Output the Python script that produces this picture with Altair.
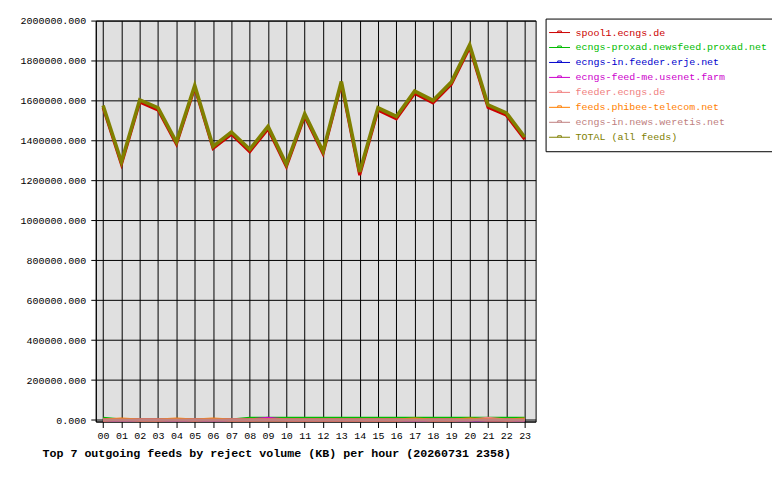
import altair as alt
import pandas as pd

hours = list(range(24))

series_names = [
    "spool1.ecngs.de",
    "ecngs-proxad.newsfeed.proxad.net",
    "ecngs-in.feeder.erje.net",
    "ecngs-feed-me.usenet.farm",
    "feeder.ecngs.de",
    "feeds.phibee-telecom.net",
    "ecngs-in.news.weretis.net",
    "TOTAL (all feeds)",
]
series_colors = ["#cc0000", "#00bb00", "#0000cc", "#cc00cc",
                 "#f08080", "#ff8000", "#c08080", "#808000"]
series_widths = [3, 3, 3, 3, 3, 3, 3, 3.6]

spool1 = [1564000, 1280000, 1592000, 1552000, 1381000, 1664000, 1359000, 1431000,
          1343000, 1457000, 1268000, 1521000, 1333000, 1683000, 1226000, 1551000,
          1508000, 1635000, 1588000, 1680000, 1865000, 1565000, 1526000, 1405000]
proxad = [9000, 0, 0, 0, 0, 0, 0, 0,
          9000, 9000, 9000, 9000, 9000, 9000, 9000, 9000,
          9000, 9000, 9000, 9000, 9000, 9000, 9000, 9000]
erje = [0] * 24
usenet_farm = [0, 0, 0, 0, 0, 0, 0, 0,
               0, 9000, 0, 0, 0, 0, 0, 0,
               0, 0, 0, 0, 0, 0, 0, 0]
feeder_ecngs = [0, 0, 0, 0, 0, 0, 0, 0,
                0, 0, 0, 0, 0, 0, 0, 0,
                0, 0, 0, 0, 0, 9000, 0, 0]
phibee = [0, 5000, 0, 0, 5000, 0, 5000, 0,
          0, 0, 0, 0, 0, 0, 0, 0,
          0, 5000, 0, 0, 5000, 0, 0, 5000]
weretis = [0] * 24
total = [1575000, 1292000, 1603000, 1563000, 1392000, 1675000, 1370000, 1442000,
         1355000, 1470000, 1280000, 1533000, 1345000, 1695000, 1242000, 1563000,
         1520000, 1647000, 1600000, 1692000, 1878000, 1578000, 1538000, 1417000]

all_series = [spool1, proxad, erje, usenet_farm, feeder_ecngs, phibee, weretis, total]

rows = []
for name, vals in zip(series_names, all_series):
    for h, v in zip(hours, vals):
        rows.append({"hour": h, "feed": name, "kb": v})
df = pd.DataFrame(rows)

FONT = "Liberation Mono"
COLOR_EXPR = "scale('color', datum.value)"

color = alt.Color(
    "feed:N",
    scale=alt.Scale(domain=series_names, range=series_colors),
    legend=alt.Legend(
        title=None,
        orient="none",
        legendX=451,
        legendY=-2,
        padding=9,
        strokeColor="black",
        fillColor="white",
        cornerRadius=0,
        symbolType="M-3.5,0H3.5M-0.6,0V-0.5H0.6V0",
        symbolSize=36,
        symbolStrokeWidth=1,
        symbolFillColor="transparent",
        symbolStrokeColor=alt.ExprRef(COLOR_EXPR),
        labelFont=FONT,
        labelFontSize=10,
        labelLimit=0,
        labelOffset=11,
        rowPadding=5,
        labelColor=alt.ExprRef(COLOR_EXPR),
    ),
)

x = alt.X(
    "hour:Q",
    scale=alt.Scale(domain=[-0.4, 23.6], nice=False, zero=False),
    axis=alt.Axis(
        values=hours,
        labelExpr="datum.value < 10 ? '0' + datum.value : '' + datum.value",
        grid=True,
        gridColor="black",
        gridOpacity=1,
        gridWidth=1,
        domainColor="black",
        tickColor="black",
        tickSize=6,
        labelPadding=3,
        labelFont=FONT,
        labelFontSize=10,
        labelColor="black",
        labelFlush=False,
        title="Top 7 outgoing feeds by reject volume (KB) per hour (20260731 2358)",
        titleFont=FONT,
        titleFontSize=11.7,
        titleFontWeight="bold",
        titleColor="black",
        titleX=-54,
        titleY=35,
        titleAlign="left",
        titleAnchor="start",
        titleBaseline="alphabetic",
    ),
)

y = alt.Y(
    "kb:Q",
    scale=alt.Scale(domain=[-7500, 2000000], nice=False, zero=False),
    axis=alt.Axis(
        values=list(range(0, 2000001, 200000)),
        format=".3f",
        grid=True,
        gridColor="black",
        gridOpacity=1,
        gridWidth=1,
        domainColor="black",
        tickColor="black",
        tickSize=5,
        labelPadding=5,
        labelFont=FONT,
        labelFontSize=10,
        labelColor="black",
        labelFlush=False,
        title=None,
    ),
)

base = alt.Chart(df)
layers = []
for name, w in zip(series_names, series_widths):
    layers.append(
        base.transform_filter(alt.datum.feed == name)
        .mark_line(strokeWidth=w, strokeCap="butt", strokeJoin="miter")
        .encode(x=x, y=y, color=color)
    )

chart = alt.layer(*layers).properties(
    width=441,
    height=402,
    autosize=alt.AutoSizeParams(type="none"),
    padding={"left": 88, "top": 12, "right": 237, "bottom": 44},
    background="white",
).configure_view(
    fill="#e0e0e0",
    stroke="black",
    strokeWidth=1,
)

chart.save("out.html", embed_options={"renderer": "svg", "actions": False})
